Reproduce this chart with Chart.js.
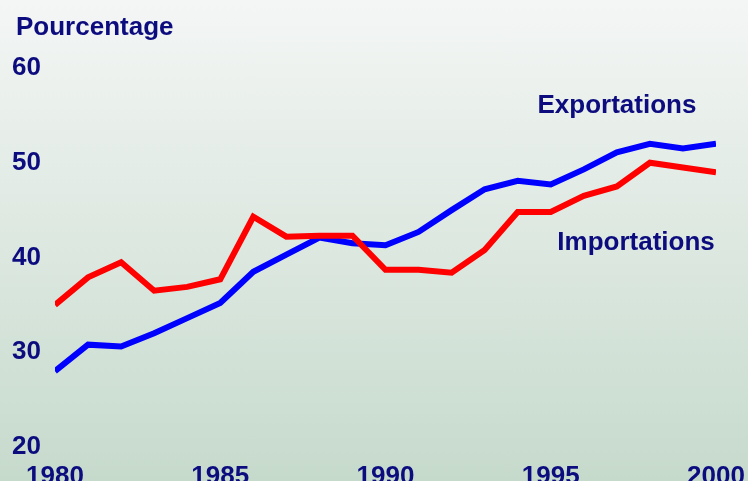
<!DOCTYPE html>
<html>
<head>
<meta charset="utf-8">
<script src="https://cdn.jsdelivr.net/npm/chart.js@4"></script>
<style>
    html, body { margin: 0; padding: 0; overflow: hidden; }
    body { width: 748px; height: 481px; background: linear-gradient(#f4f6f5, #c6dacc); }
    #wrap { width: 748px; height: 481px; position: relative; }
</style>
</head>
<body>
<div id="wrap"><canvas id="chart"></canvas></div>
<script>
// Data
const years = [1980, 1981, 1982, 1983, 1984, 1985, 1986, 1987, 1988, 1989, 1990,
               1991, 1992, 1993, 1994, 1995, 1996, 1997, 1998, 1999, 2000];
const exportations = [28.0, 30.8, 30.6, 32.0, 33.6, 35.2, 38.5, 40.3, 42.1, 41.5, 41.3,
                      42.7, 45.0, 47.2, 48.1, 47.7, 49.3, 51.1, 52.0, 51.5, 52.0];
const importations = [35.0, 37.9, 39.5, 36.5, 36.9, 37.7, 44.3, 42.2, 42.3, 42.3, 38.7,
                      38.7, 38.4, 40.8, 44.8, 44.8, 46.5, 47.5, 50.0, 49.5, 49.0];
const xTicks = [1980, 1985, 1990, 1995, 2000];
const yTicks = [20, 30, 40, 50, 60];

const navy = '#0c0c7e';
const fontFamily = '"Liberation Sans", Arial, sans-serif';

// Text labels drawn on the canvas (axis title + series names)
const textLabels = {
    id: 'textLabels',
    afterDraw(chart) {
        const ctx = chart.ctx;
        const x = chart.scales.x;
        const y = chart.scales.y;
        ctx.save();
        ctx.fillStyle = navy;
        ctx.font = 'bold 26px ' + fontFamily;
        ctx.textBaseline = 'middle';
        ctx.textAlign = 'left';
        ctx.fillText('Pourcentage', 16, 28);
        ctx.fillText('Exportations', x.getPixelForValue(1994.6), y.getPixelForValue(56.0));
        ctx.fillText('Importations', x.getPixelForValue(1995.2), y.getPixelForValue(41.5));
        ctx.restore();
    }
};

new Chart(document.getElementById('chart'), {
    type: 'line',
    data: {
        datasets: [
            {
                label: 'Importations',
                data: years.map((yr, i) => ({ x: yr, y: importations[i] })),
                borderColor: '#ff0000',
                borderWidth: 6,
                pointRadius: 0,
                tension: 0
            },
            {
                label: 'Exportations',
                data: years.map((yr, i) => ({ x: yr, y: exportations[i] })),
                borderColor: '#0000ff',
                borderWidth: 6,
                pointRadius: 0,
                tension: 0
            }
        ]
    },
    options: {
        responsive: true,
        maintainAspectRatio: false,
        animation: false,
        layout: { padding: { left: 12, top: 68, right: 32, bottom: 0 } },
        plugins: {
            legend: { display: false },
            tooltip: { enabled: false }
        },
        scales: {
            x: {
                type: 'linear',
                min: 1980,
                max: 2000,
                grid: { display: false },
                border: { display: false },
                afterBuildTicks: (scale) => { scale.ticks = xTicks.map(v => ({ value: v })); },
                afterFit: (scale) => {
                    scale.height = 34;
                    scale.paddingLeft = 0;
                    scale.paddingRight = 0;
                },
                ticks: {
                    color: navy,
                    padding: 6,
                    font: { family: fontFamily, size: 26, weight: 'bold' },
                    callback: (v) => String(v)
                }
            },
            y: {
                min: 20,
                max: 60,
                grid: { display: false },
                border: { display: false },
                afterBuildTicks: (scale) => { scale.ticks = yTicks.map(v => ({ value: v })); },
                afterFit: (scale) => { scale.width = 43; },
                ticks: {
                    color: navy,
                    crossAlign: 'far',
                    padding: 0,
                    font: { family: fontFamily, size: 26, weight: 'bold' },
                    callback: (v) => String(v)
                }
            }
        }
    },
    plugins: [textLabels]
});
</script>
</body>
</html>
